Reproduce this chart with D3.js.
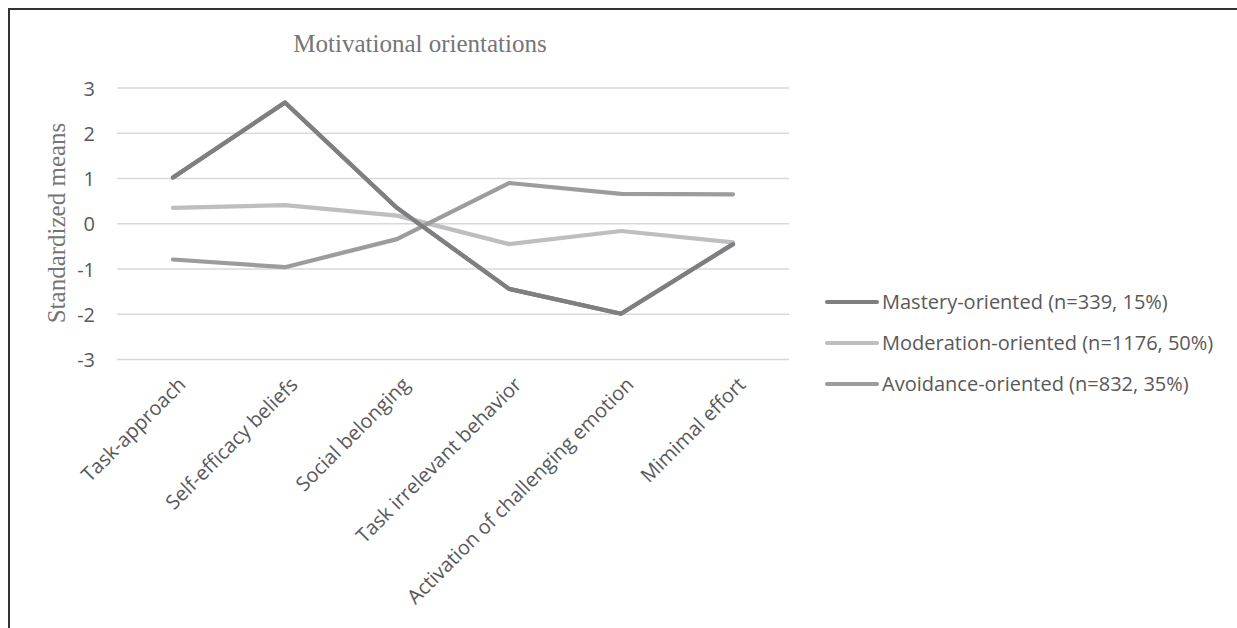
<!DOCTYPE html>
<html><head><meta charset="utf-8">
<script src="https://cdn.jsdelivr.net/npm/d3@7"></script>
<style>body{margin:0;background:#fff}svg{display:block}</style>
</head><body>
<svg id="c" width="1237" height="628"></svg>
<script>
const categories = ["Task-approach","Self-efficacy beliefs","Social belonging","Task irrelevant behavior","Activation of challenging emotion","Mimimal effort"];
const seriesNames = ["Mastery-oriented (n=339, 15%)","Moderation-oriented (n=1176, 50%)","Avoidance-oriented (n=832, 35%)"];
const mastery = [1.02, 2.68, 0.35, -1.44, -1.99, -0.45];
const moderation = [0.35, 0.41, 0.18, -0.45, -0.16, -0.41];
const avoidance = [-0.79, -0.96, -0.34, 0.90, 0.66, 0.65];
const yTicks = [-3,-2,-1,0,1,2,3];
const colors = ["#7f7f82","#bebec0","#9c9c9f"];
const seriesValues = [mastery, moderation, avoidance];

const svg = d3.select("#c");
const sans = "'Open Sans', sans-serif";
const serif = "'Liberation Serif', 'Times New Roman', serif";
// frame
svg.append("line").attr("x1",9).attr("x2",9).attr("y1",8).attr("y2",628).attr("stroke","#333").attr("stroke-width",2);
svg.append("line").attr("x1",8).attr("x2",1237).attr("y1",9).attr("y2",9).attr("stroke","#333").attr("stroke-width",2);

const x = d3.scaleBand().domain(categories).range([117,789]);
const y = d3.scaleLinear().domain([-3,3]).range([359.5,88]);

// gridlines
svg.append("g").selectAll("line").data(yTicks).join("line")
  .attr("x1",117).attr("x2",789).attr("y1",d=>y(d)).attr("y2",d=>y(d))
  .attr("stroke","#d9d9d9").attr("stroke-width",1.3);

// y axis
const yAxis = d3.axisLeft(y).tickValues(yTicks).tickSize(0).tickPadding(0).tickFormat(d=>String(d));
const gy = svg.append("g").attr("transform","translate(95,0)").call(yAxis);
gy.select(".domain").remove();
gy.selectAll("text").attr("font-family",sans).attr("font-size",20).attr("fill","#595959").attr("dy","0.35em");

// x axis
const xAxis = d3.axisBottom(x).tickSize(0).tickPadding(0);
const gx = svg.append("g").attr("transform","translate(0,376)").call(xAxis);
gx.select(".domain").remove();
gx.selectAll("text")
  .attr("font-family",sans).attr("font-size",20).attr("fill","#595959")
  .attr("text-anchor","end").attr("dy","0.7em").attr("dx",0)
  .attr("transform","translate(4,0) rotate(-45)");

// lines
const line = d3.line().x((d,i)=>x(categories[i])+x.bandwidth()/2).y(d=>y(d));
seriesValues.forEach((vals,k)=>{
  svg.append("path").datum(vals).attr("d",line).attr("fill","none")
    .attr("stroke",colors[k]).attr("stroke-width",4.2).attr("stroke-linecap","round").attr("stroke-linejoin","round");
});
svg.append("path").datum(mastery).attr("d",line).attr("fill","none")
  .attr("stroke",colors[0]).attr("stroke-width",4.2).attr("stroke-linecap","round").attr("stroke-linejoin","round");

// title
svg.append("text").attr("x",420).attr("y",52).attr("text-anchor","middle")
  .attr("font-family",serif).attr("font-size",25).attr("fill","#757575")
  .text("Motivational orientations");

// y label
svg.append("text").attr("transform","translate(65,223) rotate(-90)").attr("text-anchor","middle")
  .attr("font-family",serif).attr("font-size",25).attr("fill","#757575")
  .text("Standardized means");

// legend
const lg = svg.append("g");
seriesNames.forEach((name,k)=>{
  const yy = 302 + k*41;
  lg.append("line").attr("x1",827).attr("x2",877).attr("y1",yy).attr("y2",yy)
    .attr("stroke",colors[k]).attr("stroke-width",4.2).attr("stroke-linecap","round");
  lg.append("text").attr("x",882).attr("y",yy).attr("dy","0.35em")
    .attr("font-family",sans).attr("font-size",20).attr("fill","#595959").text(name);
});
</script>
</body></html>
